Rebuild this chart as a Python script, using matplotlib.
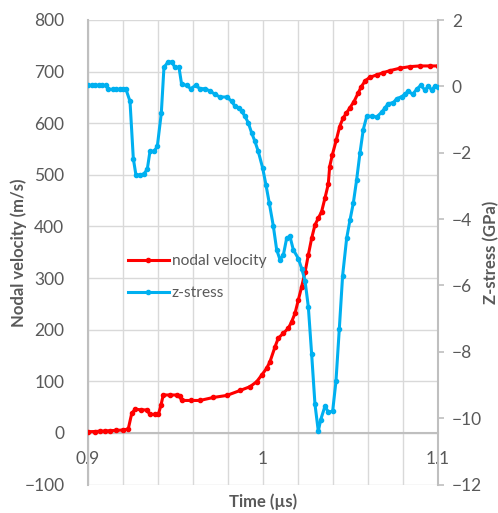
import numpy as np
import matplotlib.pyplot as plt
from matplotlib.ticker import MultipleLocator

# --------------------------
# Data
# --------------------------
# nodal velocity (m/s) vs time (us)
vel_time = [0.9002, 0.9040, 0.9070, 0.9097, 0.9126, 0.9160, 0.9202, 0.9230, 0.9250, 0.9269,
            0.9300, 0.9335, 0.9354, 0.9380, 0.9402, 0.9417, 0.9430, 0.9470, 0.9507, 0.9523,
            0.9535, 0.9590, 0.9640, 0.9716, 0.9793, 0.9869, 0.9926, 0.9964, 0.9993, 1.0021,
            1.0040, 1.0069, 1.0087, 1.0116, 1.0145, 1.0164, 1.0183, 1.0202, 1.0221, 1.0240,
            1.0259, 1.0278, 1.0297, 1.0316, 1.0335, 1.0354, 1.0373, 1.0381, 1.0396, 1.0419,
            1.0438, 1.0457, 1.0476, 1.0495, 1.0520, 1.0543, 1.0562, 1.0585, 1.0611, 1.0650,
            1.0687, 1.0726, 1.0783, 1.0840, 1.0897, 1.0954, 1.1000]
velocity = [2.5, 2.8, 3.5, 3.9, 4.5, 5.0, 5.8, 7.8, 38, 46,
            45, 44.6, 36, 36, 36, 54, 73.6, 73.6, 73.6, 71.7,
            63, 63, 63, 68.8, 72.7, 82.3, 89.7, 99.4, 112.4, 125.4,
            138.2, 167.2, 183.5, 193.2, 202.9, 215.7, 231.9, 257.7, 283.5, 311,
            344.9, 377.2, 403, 416, 428.8, 455, 482, 516, 538.6, 567.7,
            593.5, 609.7, 619.4, 629, 642, 658, 671, 682.6, 689, 693.7,
            698, 702, 706.7, 709.7, 711, 711, 711]

# z-stress (GPa) vs time (us)
stress_time = [0.9000, 0.9020, 0.9040, 0.9060, 0.9080, 0.9103, 0.9114, 0.9140, 0.9160, 0.9180,
               0.9200, 0.9217, 0.9240, 0.9259, 0.9274, 0.9297, 0.9320, 0.9339, 0.9354, 0.9377,
               0.9396, 0.9419, 0.9434, 0.9455, 0.9478, 0.9497, 0.9520, 0.9535, 0.9564, 0.9587,
               0.9615, 0.9640, 0.9669, 0.9697, 0.9726, 0.9754, 0.9793, 0.9821, 0.9840, 0.9865,
               0.9878, 0.9897, 0.9916, 0.9935, 0.9954, 0.9973, 0.9998, 1.0017, 1.0036, 1.0059,
               1.0078, 1.0097, 1.0116, 1.0135, 1.0154, 1.0173, 1.0202, 1.0221, 1.0240, 1.0259,
               1.0278, 1.0297, 1.0316, 1.0330, 1.0354, 1.0373, 1.0398, 1.0417, 1.0436, 1.0455,
               1.0478, 1.0497, 1.0516, 1.0535, 1.0554, 1.0573, 1.0593, 1.0621, 1.0650, 1.0678,
               1.0697, 1.0716, 1.0745, 1.0764, 1.0793, 1.0811, 1.0830, 1.0855, 1.0878, 1.0901,
               1.0926, 1.0945, 1.0964, 1.0983, 1.1000]
stress = [0.03, 0.03, 0.03, 0.03, 0.03, 0.03, -0.09, -0.09, -0.09, -0.09,
          -0.09, -0.09, -0.45, -2.18, -2.67, -2.67, -2.64, -2.49, -1.96, -1.96,
          -1.81, -0.80, 0.57, 0.72, 0.74, 0.57, 0.57, 0.06, 0.03, -0.07,
          0.03, -0.07, -0.07, -0.14, -0.24, -0.32, -0.32, -0.45, -0.60, -0.65,
          -0.75, -0.90, -1.10, -1.40, -1.66, -1.96, -2.46, -2.97, -3.52, -4.21,
          -4.92, -5.22, -5.09, -4.58, -4.52, -4.92, -5.19, -5.49, -5.85, -6.64,
          -8.07, -9.58, -10.39, -10.04, -9.64, -9.81, -9.79, -8.88, -7.31, -5.70,
          -4.58, -4.03, -3.52, -2.82, -2.01, -1.30, -0.90, -0.90, -0.92, -0.78,
          -0.65, -0.52, -0.49, -0.37, -0.31, -0.24, -0.14, -0.24, -0.09, 0.03,
          -0.11, 0.01, -0.11, 0.01, -0.01]

x_ticks = [0.9, 1.0, 1.1]
x_tick_labels = ['0.9', '1', '1.1']

# --------------------------
# Styling
# --------------------------
plt.rcParams['font.family'] = ['Lato', 'DejaVu Sans']
text_gray = '#595959'
grid_gray = '#d9d9d9'
axis_gray = '#bfbfbf'
red = '#ff0000'
blue = '#00b0f0'

fig = plt.figure(figsize=(4.98, 5.13), dpi=100)
ax = fig.add_axes([88 / 498, 1 - 484.6 / 513, 350 / 498, 464.6 / 513])
ax2 = ax.twinx()

# velocity on primary axis
l1, = ax.plot(vel_time, velocity, color=red, lw=2.2, marker='o', ms=3,
              label='nodal velocity', zorder=3)
# stress on secondary axis
l2, = ax2.plot(stress_time, stress, color=blue, lw=2.2, marker='o', ms=3,
               label='z-stress', zorder=3)

ax.set_xlim(0.9, 1.1)
ax.set_ylim(-100, 800)
ax2.set_ylim(-12, 2)

ax.yaxis.set_major_locator(MultipleLocator(100))
ax2.yaxis.set_major_locator(MultipleLocator(2))
ax.set_xticks(x_ticks)
ax.set_xticklabels(x_tick_labels)
ax.xaxis.set_minor_locator(MultipleLocator(0.02))

# gridlines
ax.grid(True, which='major', axis='y', color=grid_gray, lw=1)
ax.grid(True, which='both', axis='x', color=grid_gray, lw=1)
ax.set_axisbelow(True)

# spines
for a in (ax, ax2):
    for s in a.spines.values():
        s.set_visible(False)
ax.spines['left'].set_visible(True)
ax.spines['left'].set_color(axis_gray)
ax.spines['left'].set_linewidth(1.5)
ax.spines['bottom'].set_visible(True)
ax.spines['bottom'].set_position(('data', 0))
ax.spines['bottom'].set_color(axis_gray)
ax.spines['bottom'].set_linewidth(1.5)
ax2.spines['right'].set_visible(True)
ax2.spines['right'].set_color(axis_gray)
ax2.spines['right'].set_linewidth(1.5)

ax.tick_params(axis='y', length=0, labelsize=12.5, labelcolor=text_gray, pad=17)
ax.tick_params(axis='x', which='both', length=0, labelsize=12.5, labelcolor=text_gray, pad=13)
ax2.tick_params(axis='y', length=4, width=1.2, color=axis_gray, labelsize=12.5,
                labelcolor=text_gray, pad=6)

ax.set_xlabel('Time (µs)', fontsize=12, fontweight='bold', color=text_gray)
ax.xaxis.set_label_coords(0.5, -0.018)
ax.set_ylabel('Nodal velocity (m/s)', fontsize=12, fontweight='bold', color=text_gray)
ax.yaxis.set_label_coords(-0.175, 0.5)
ax2.set_ylabel('Z-stress (GPa)', fontsize=12, fontweight='bold', color=text_gray,
               rotation=90)
ax2.yaxis.set_label_coords(1.128, 0.5)

ax2.set_zorder(ax.get_zorder() + 1)
ax2.patch.set_visible(False)

leg = ax2.legend(handles=[l1, l2], loc='upper left',
                 bbox_to_anchor=(122 / 498, 1 - 248 / 513), bbox_transform=fig.transFigure,
                 frameon=False, fontsize=11.2, labelspacing=1.15, handlelength=2.6,
                 handletextpad=0.2, borderaxespad=0)
for t in leg.get_texts():
    t.set_color(text_gray)

plt.savefig('out.png', dpi=100)
